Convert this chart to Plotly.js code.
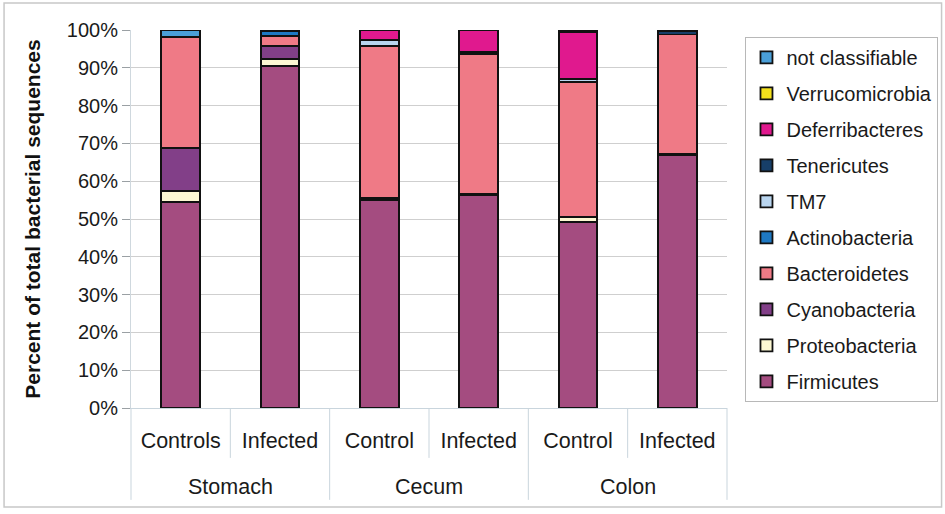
<!DOCTYPE html>
<html>
<head>
<meta charset="utf-8">
<script src="https://cdn.plot.ly/plotly-3.0.1.min.js"></script>
<style>html,body{margin:0;padding:0;background:#fff}#chart{width:945px;height:514px}</style>
</head>
<body>
<div id="chart"></div>
<script>
const groups = ["Stomach","Stomach","Cecum","Cecum","Colon","Colon"];
const subs = ["Controls","Infected","Control","Infected","Control","Infected"];
const groupNames = ["Stomach","Cecum","Colon"];

const Firmicutes      = [54.5, 90.4, 55.0, 56.3, 49.2, 66.9];
const Proteobacteria  = [2.9, 2.0, 0.5, 0.4, 1.4, 0.3];
const Cyanobacteria   = [11.4, 3.4, 0, 0, 0, 0];
const Bacteroidetes   = [29.3, 2.6, 40.3, 36.9, 35.7, 31.6];
const Actinobacteria  = [0, 1.2, 0, 0, 0, 0];
const TM7             = [0, 0, 1.6, 0, 0.7, 0];
const Tenericutes     = [0, 0.4, 0, 0.5, 0, 0.8];
const Deferribacteres = [0, 0, 2.6, 5.9, 12.5, 0.4];
const Verrucomicrobia = [0, 0, 0, 0, 0.5, 0];
const NotClassifiable = [1.9, 0, 0, 0, 0, 0];

const seriesNames = ["Firmicutes","Proteobacteria","Cyanobacteria","Bacteroidetes","Actinobacteria","TM7","Tenericutes","Deferribacteres","Verrucomicrobia","not classifiable"];
const seriesValues = [Firmicutes,Proteobacteria,Cyanobacteria,Bacteroidetes,Actinobacteria,TM7,Tenericutes,Deferribacteres,Verrucomicrobia,NotClassifiable];
const seriesColors = ["#a44c80","#fdf8d3","#823f88","#ef7a86","#1e78c2","#b9d5ef","#173f69","#e0198e","#f3e01c","#4a9fd8"];

const ids = groups.map((g,i)=>g+" | "+subs[i]);

const traces = seriesNames.map((n,i)=>({
  type:"bar", name:n, x:ids, y:seriesValues[i],
  legendgroup:n, legendrank:1000-i,
  marker:{color:seriesColors[i], line:{color:"#111", width:1.8}},
  hoverinfo:"skip"
}));

const nCat = subs.length;
const shapes = [];
const lineCol = "#c9d5dd";
for (let i=0;i<=nCat;i++){
  const xp = i/nCat;
  const isGroupEdge = (i===0 || i===nCat || groups[i]!==groups[i-1]);
  shapes.push({type:"line", xref:"paper", yref:"paper", x0:xp, x1:xp, y0:0, y1:isGroupEdge?-0.243:-0.132, line:{color:lineCol,width:1}});
}
shapes.push({type:"rect", xref:"paper", yref:"paper", x0:-0.213, x1:1.36, y0:1.0714, y1:-0.262, line:{color:"#c8c8c8",width:1.5}});

const annotations = groupNames.map(g=>{
  const idx = groups.map((v,i)=>v===g?i:-1).filter(i=>i>=0);
  const mid = (idx[0]+idx[idx.length-1])/2;
  return {x:mid, xref:"x", y:-0.209, yref:"paper", text:g, showarrow:false,
          xanchor:"center", yanchor:"middle", font:{size:21.5, color:"#1a1a1a"}};
});

const layout = {
  width:945, height:514,
  margin:{l:131, r:218, t:30, b:106, autoexpand:false},
  paper_bgcolor:"#fff", plot_bgcolor:"#fff",
  font:{family:"Liberation Sans, Arial, sans-serif", size:20, color:"#1a1a1a"},
  barmode:"stack",
  bargap:0.61,
  showlegend:true,
  legend:{
    x:1.031, xanchor:"left", y:0.982, yanchor:"top",
    bordercolor:"#b8b8b8", borderwidth:1,
    traceorder:"grouped", tracegroupgap:7,
    font:{size:20, color:"#1a1a1a"},
    itemwidth:30
  },
  xaxis:{
    type:"category",
    tickvals:ids, ticktext:subs,
    showgrid:false, zeroline:false,
    showline:true, linecolor:lineCol, linewidth:1,
    ticks:"",
    tickfont:{size:21.5, color:"#1a1a1a"},
    ticklabelstandoff:13
  },
  yaxis:{
    range:[0,100], dtick:10, ticksuffix:"%",
    showgrid:true, gridcolor:"#cfcfcf", gridwidth:1,
    zeroline:false, showline:true, linecolor:"#cfd8de", linewidth:1,
    ticks:"outside", ticklen:8, tickcolor:"#9aa0a4",
    tickfont:{size:20, color:"#1a1a1a"},
    title:{text:"<b>Percent of total bacterial sequences</b>", font:{size:21, color:"#111"}, standoff:20}
  },
  annotations:annotations,
  shapes:shapes
};

Plotly.newPlot("chart", traces, layout, {displayModeBar:false, staticPlot:true});
</script>
</body>
</html>
